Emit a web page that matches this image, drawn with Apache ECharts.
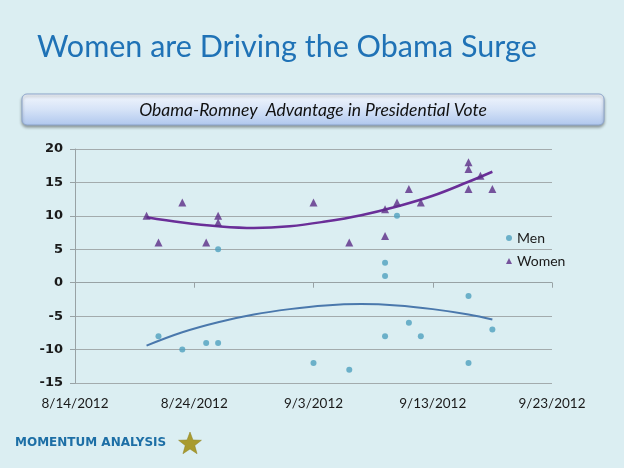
<!DOCTYPE html>
<html>
<head>
<meta charset="utf-8">
<script src="https://cdn.jsdelivr.net/npm/echarts@6/dist/echarts.min.js"></script>
<style>
html,body{margin:0;padding:0;background:#DBEEF2;}
#chart{width:624px;height:468px;}
</style>
</head>
<body>
<div id="chart"></div>
<script>
// ---- data ----
const xTickLabels = ['8/14/2012','8/24/2012','9/3/2012','9/13/2012','9/23/2012'];
const yTicks = [-15,-10,-5,0,5,10,15,20];

const menDates = ['2012-08-21','2012-08-23','2012-08-25','2012-08-26','2012-08-26','2012-09-03','2012-09-06','2012-09-09','2012-09-09','2012-09-09','2012-09-10','2012-09-11','2012-09-12','2012-09-16','2012-09-16','2012-09-18'];
const menValues = [-8,-10,-9,-9,5,-12,-13,3,1,-8,10,-6,-8,-2,-12,-7];

const womenDates = ['2012-08-20','2012-08-21','2012-08-23','2012-08-25','2012-08-26','2012-08-26','2012-09-03','2012-09-06','2012-09-09','2012-09-09','2012-09-10','2012-09-11','2012-09-12','2012-09-16','2012-09-16','2012-09-16','2012-09-17','2012-09-18'];
const womenValues = [10,6,12,6,10,9,12,6,11,7,12,14,12,18,17,14,16,14];

// trendlines
const menTrendDates = ['2012-08-20','2012-08-23','2012-08-26','2012-08-29','2012-09-01','2012-09-04','2012-09-07','2012-09-10','2012-09-13','2012-09-16','2012-09-18'];
const menTrendValues = [-9.4,-7.4,-5.9,-4.75,-3.95,-3.4,-3.2,-3.4,-3.95,-4.75,-5.5];
const womenTrendDates = ['2012-08-20','2012-08-23','2012-08-26','2012-08-29','2012-09-01','2012-09-04','2012-09-07','2012-09-10','2012-09-13','2012-09-16','2012-09-18'];
const womenTrendValues = [9.8,9.0,8.45,8.2,8.45,9.15,10.1,11.4,13.0,15.1,16.6];

const startDate = '2012-08-14';

// ---- helpers ----
function dayOffset(s){
  const p = s.split('-').map(Number);
  const p0 = startDate.split('-').map(Number);
  return (Date.UTC(p[0],p[1]-1,p[2]) - Date.UTC(p0[0],p0[1]-1,p0[2]))/86400000;
}
function pairs(dates, vals){ return dates.map((d,i)=>[dayOffset(d), vals[i]]); }

function starPoints(cx, cy, R, r){
  const pts=[];
  for(let i=0;i<10;i++){
    const a = -Math.PI/2 + i*Math.PI/5;
    const rad = i%2===0 ? R : r;
    pts.push([cx + rad*Math.cos(a), cy + rad*Math.sin(a)]);
  }
  return pts;
}

const chart = echarts.init(document.getElementById('chart'), null, {renderer:'canvas'});
const baseFont = 'Lato, "Open Sans", "DejaVu Sans", sans-serif';

const option = {
  backgroundColor: '#DBEEF2',
  animation: false,
  textStyle: {fontFamily: baseFont},
  grid: {left: 75, right: 72, top: 149, bottom: 85, containLabel: false},
  xAxis: {
    type: 'value', min: 0, max: 40, interval: 10,
    axisLine: {show: true, lineStyle: {color: '#98A2A5', width: 1}},
    axisTick: {show: true, length: 5, lineStyle: {color: '#98A2A5'}},
    splitLine: {show: false},
    axisLabel: {
      margin: 14, fontSize: 13.5, color: '#1a1a1a', fontFamily: baseFont,
      formatter: v => xTickLabels[Math.round(v/10)] || ''
    }
  },
  yAxis: {
    type: 'value', min: yTicks[0], max: yTicks[yTicks.length-1], interval: 5,
    axisLine: {show: true, lineStyle: {color: '#98A2A5', width: 1}},
    axisTick: {show: true, length: 5, lineStyle: {color: '#98A2A5'}},
    splitLine: {show: true, lineStyle: {color: '#A3ABAD', width: 1}},
    axisLabel: {margin: 12, fontSize: 13, fontWeight: 'bold', color: '#1a1a1a', fontFamily: '"DejaVu Sans", sans-serif'}
  },
  legend: {
    data: [{name: 'Men', icon: 'circle', itemStyle: {borderWidth: 0}}, {name: 'Women', icon: 'triangle'}],
    orient: 'vertical', left: 501, top: 226, itemWidth: 6, itemHeight: 6, itemGap: 9,
    textStyle: {fontSize: 14, color: '#1a1a1a', fontFamily: baseFont}
  },
  series: [
    {
      name: 'MenTrend', type: 'line', data: pairs(menTrendDates, menTrendValues),
      smooth: 0.4, showSymbol: false, symbol: 'none',
      lineStyle: {color: '#4A78AC', width: 2}, z: 2, silent: true
    },
    {
      name: 'WomenTrend', type: 'line', data: pairs(womenTrendDates, womenTrendValues),
      smooth: 0.4, showSymbol: false, symbol: 'none',
      lineStyle: {color: '#6A2E98', width: 2.5}, z: 2, silent: true
    },
    {
      name: 'Men', type: 'scatter', data: pairs(menDates, menValues),
      symbol: 'circle', symbolSize: 6,
      itemStyle: {color: '#4FA0BE'}, z: 3
    },
    {
      name: 'Women', type: 'scatter', data: pairs(womenDates, womenValues),
      symbol: 'triangle', symbolSize: 8,
      itemStyle: {color: '#5B2C86'}, z: 3
    }
  ],
  graphic: [
    {
      type: 'text', left: 37, top: 32,
      style: {text: 'Women are Driving the Obama Surge', fill: '#1F72B6', font: '30.5px Lato, "Open Sans", sans-serif'}
    },
    {
      type: 'rect', shape: {x: 22, y: 94, width: 582, height: 31, r: 5},
      style: {
        fill: new echarts.graphic.LinearGradient(0,0,0,1,[{offset:0,color:'#F3F7FD'},{offset:0.5,color:'#D6E3F7'},{offset:1,color:'#AFC7EE'}]),
        stroke: '#8EA6CC', lineWidth: 1,
        shadowBlur: 3, shadowOffsetY: 2, shadowColor: 'rgba(0,0,0,0.35)'
      }
    },
    {
      type: 'text', x: 313, y: 110,
      style: {text: 'Obama-Romney  Advantage in Presidential Vote', fill: '#111', font: 'italic 17.5px Lato, "Open Sans", sans-serif', textAlign: 'center', textVerticalAlign: 'middle'}
    },
    {
      type: 'text', left: 15, top: 437,
      style: {text: 'MOMENTUM ANALYSIS', fill: '#1D6FA6', font: 'bold 12px "DejaVu Sans", sans-serif'}
    },
    {
      type: 'polygon', shape: {points: starPoints(190, 444, 12, 5)},
      style: {fill: '#A99B2E', stroke: '#8B7E1E', lineWidth: 0.5}
    }
  ]
};
chart.setOption(option);
</script>
</body>
</html>
